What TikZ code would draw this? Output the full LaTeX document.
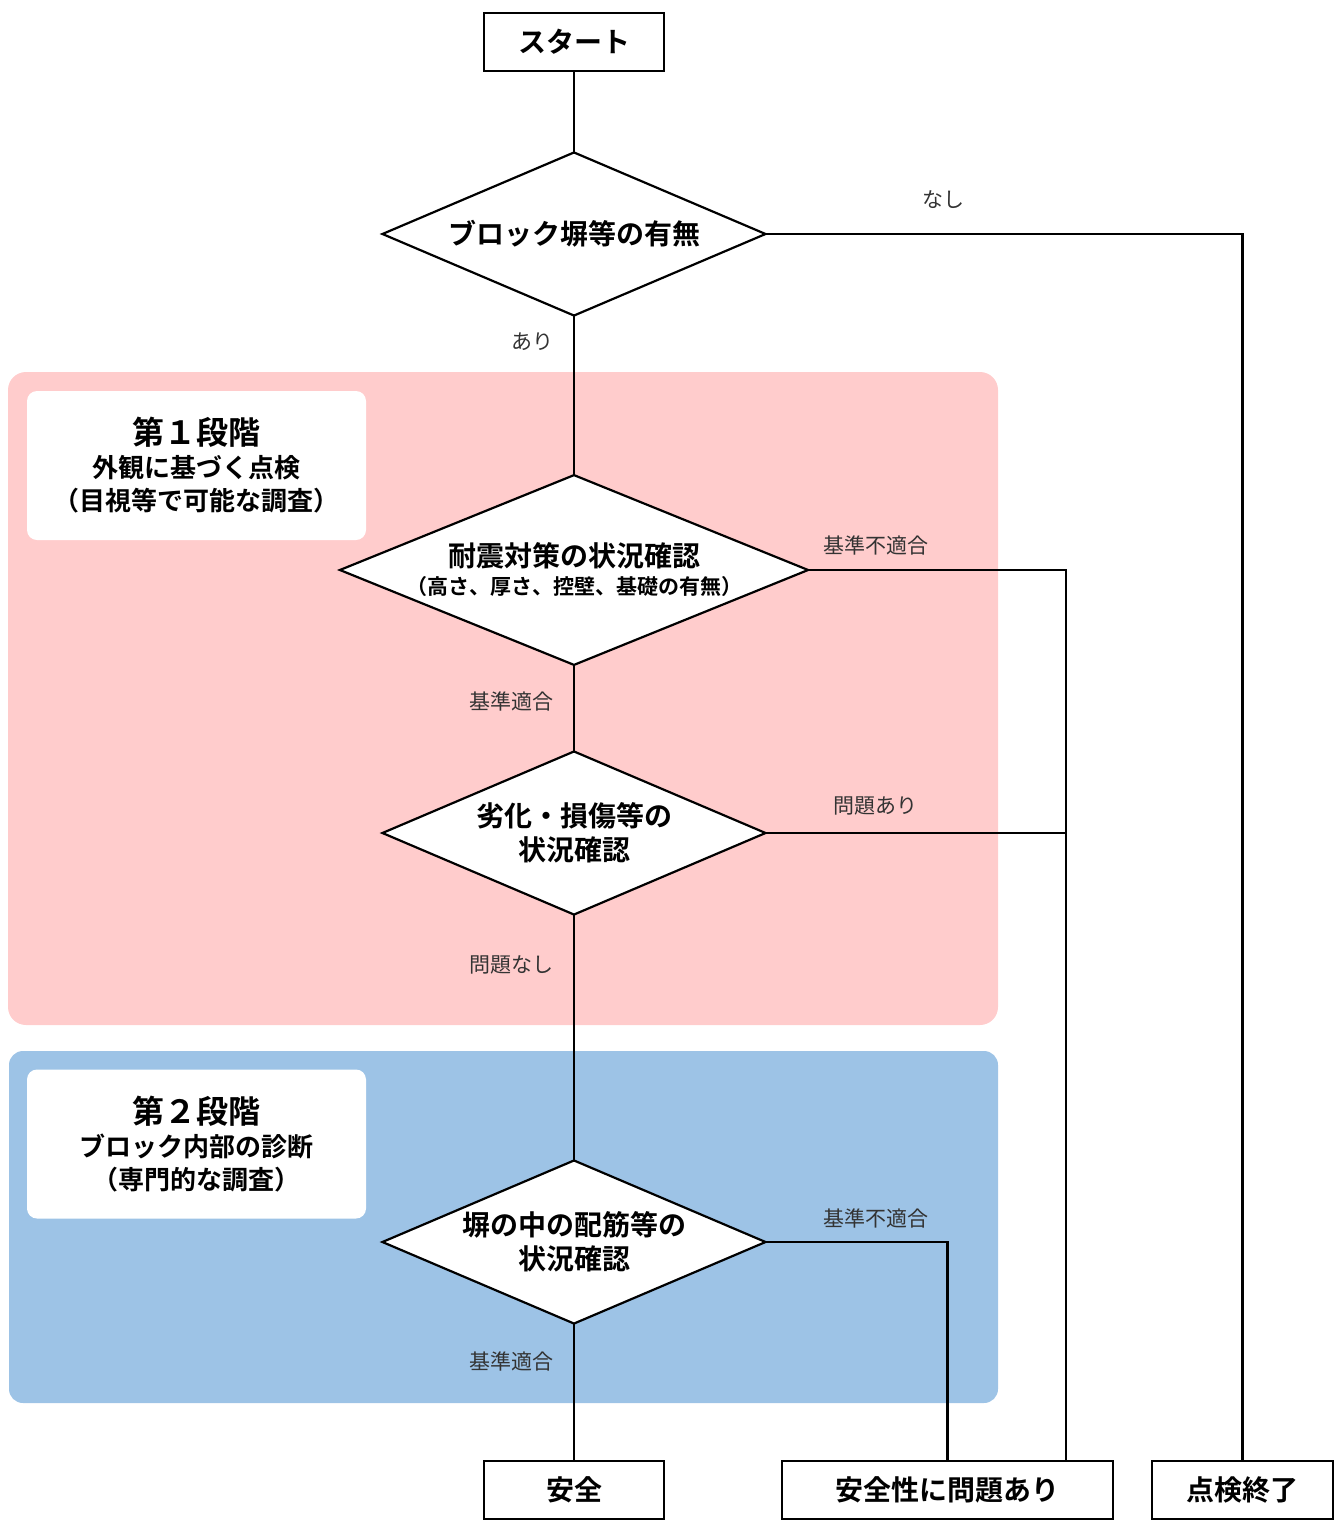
\documentclass[tikz,border=0pt]{standalone}
\usepackage{fontspec}
\setmainfont{Noto Sans CJK JP}[BoldFont={Noto Sans CJK JP Bold}]
\usetikzlibrary{shapes.geometric}
\definecolor{stageone}{HTML}{FFCCCC}
\definecolor{stagetwo}{HTML}{9DC3E6}
\definecolor{lblgray}{HTML}{333333}
\begin{document}
\begin{tikzpicture}[x=1pt,y=-1pt,
  conn/.style={line width=2.2pt,line cap=rect},
  termbox/.style={draw,line width=2.2pt,fill=white,minimum height=58pt,inner sep=0pt,font=\fontsize{28}{32}\selectfont\bfseries},
  decide/.style={draw,line width=2.2pt,fill=white,diamond,inner sep=0pt,align=center,font=\fontsize{28}{34}\selectfont\bfseries},
  stagebox/.style={fill=white,rounded corners=10pt,minimum width=339pt,minimum height=149pt,inner sep=0pt,align=center,font=\fontsize{26}{33}\selectfont\bfseries},
  lbl/.style={text=lblgray,font=\fontsize{21}{24}\selectfont,inner sep=0pt}
]
\useasboundingbox (0,0) rectangle (1340,1520);
% regions
\fill[stageone,rounded corners=18pt] (8,372) rectangle (998,1025);
\fill[stagetwo,rounded corners=14pt] (9,1051) rectangle (998,1403);
\node[stagebox] (st1) at (196.5,465.5) {{\fontsize{32}{35}\selectfont 第１段階}\\外観に基づく点検\\（目視等で可能な調査）};
\node[stagebox] (st2) at (196.5,1144) {{\fontsize{32}{35}\selectfont 第２段階}\\ブロック内部の診断\\（専門的な調査）};
% terminals
\node[termbox,minimum width=180pt] (start) at (574,42) {スタート};
\node[termbox,minimum width=180pt] (safe) at (574,1490) {安全};
\node[termbox,minimum width=331pt] (unsafe) at (947.5,1490) {安全性に問題あり};
\node[termbox,minimum width=181pt] (done) at (1242.5,1490) {点検終了};
% decisions
\node[decide,minimum width=384pt,minimum height=164pt,aspect=2.34] (d1) at (574,234) {ブロック塀等の有無};
\node[decide,minimum width=462pt,minimum height=188pt,aspect=2.46] (d2) at (574,570) {耐震対策の状況確認\\[-6pt]{\fontsize{21}{24}\selectfont\bfseries （高さ、厚さ、控壁、基礎の有無）}};
\node[decide,minimum width=384pt,minimum height=164pt,aspect=2.34] (d3) at (574,833) {劣化・損傷等の\\状況確認};
\node[decide,minimum width=384pt,minimum height=164pt,aspect=2.34] (d4) at (574,1242) {塀の中の配筋等の\\状況確認};
% connectors
\coordinate (j1) at (1066,570);
\draw[conn] (start) -- (d1.north);
\draw[conn] (d1.south) -- (d2.north);
\draw[conn] (d2.south) -- (d3.north);
\draw[conn] (d3.south) -- (d4.north);
\draw[conn] (d4.south) -- (safe.north);
\draw[conn] (d1.east) -| (done.north);
\draw[conn] (d2.east) -- (j1) -- (j1 |- unsafe.north);
\draw[conn] (d3.east) -- (j1 |- d3.east);
\draw[conn] (d4.east) -| (unsafe.north);
% labels
\node[lbl] (l1) at (943,200) {なし};
\node[lbl] (l2) at (532,342) {あり};
\node[lbl] (l3) at (876,545) {基準不適合};
\node[lbl] (l4) at (511,701) {基準適合};
\node[lbl] (l5) at (875,806) {問題あり};
\node[lbl] (l6) at (511,965) {問題なし};
\node[lbl] (l7) at (876,1218) {基準不適合};
\node[lbl] (l8) at (511,1361) {基準適合};
\end{tikzpicture}
\end{document}
